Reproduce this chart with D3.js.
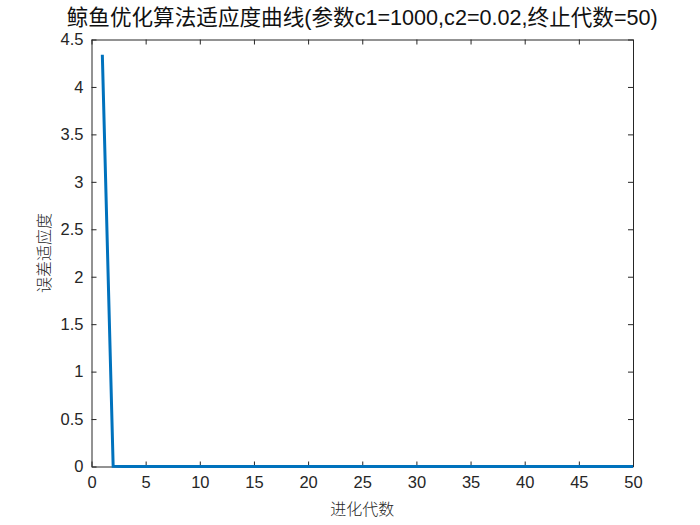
<!DOCTYPE html>
<html><head><meta charset="utf-8">
<script src="https://cdn.jsdelivr.net/npm/d3@7"></script>
<style>body{margin:0;background:#fff}svg{display:block}</style>
</head><body>
<script>
const generations = d3.range(1, 51);
const fitness = [4.34, 0.002, 0.001, 0.001, 0.001, 0.001, 0.001, 0.001, 0.001, 0.001,
  0.001, 0.001, 0.001, 0.001, 0.001, 0.001, 0.001, 0.001, 0.001, 0.001,
  0.001, 0.001, 0.001, 0.001, 0.001, 0.001, 0.001, 0.001, 0.001, 0.001,
  0.001, 0.001, 0.001, 0.001, 0.001, 0.001, 0.001, 0.001, 0.001, 0.001,
  0.001, 0.001, 0.001, 0.001, 0.001, 0.001, 0.001, 0.001, 0.001, 0.001];
const xTicks = [0,5,10,15,20,25,30,35,40,45,50];
const yTicks = [0,0.5,1,1.5,2,2.5,3,3.5,4,4.5];
const titleText = "鲸鱼优化算法适应度曲线(参数c1=1000,c2=0.02,终止代数=50)";
const xLabel = "进化代数";
const yLabel = "误差适应度";

const W = 700, H = 525;
const L = 91.5, R = 633, T = 39.5, B = 466.5;
const svg = d3.select("body").append("svg").attr("width", W).attr("height", H);
const x = d3.scaleLinear().domain([0,50]).range([L,R]);
const y = d3.scaleLinear().domain([0,4.5]).range([B,T]);
const latin = "'Liberation Sans', Arial, 'Noto Sans CJK SC', sans-serif";

const gx = svg.append("g").attr("transform", `translate(0,${B})`)
  .call(d3.axisBottom(x).tickValues(xTicks).tickSizeInner(-5).tickSizeOuter(0).tickPadding(10));
const gy = svg.append("g").attr("transform", `translate(${L},0)`)
  .call(d3.axisLeft(y).tickValues(yTicks).tickFormat(d3.format("~g")).tickSizeInner(-5).tickSizeOuter(0).tickPadding(8));
const gx2 = svg.append("g").attr("transform", `translate(0,${T})`)
  .call(d3.axisTop(x).tickValues(xTicks).tickSizeInner(-5).tickSizeOuter(0).tickFormat(""));
const gy2 = svg.append("g").attr("transform", `translate(${R},0)`)
  .call(d3.axisRight(y).tickValues(yTicks).tickSizeInner(-5).tickSizeOuter(0).tickFormat(""));
[gx,gy,gx2,gy2].forEach(g => {
  g.selectAll("path.domain").attr("stroke", "#262626").attr("stroke-width", 1);
  g.selectAll("line").attr("stroke", "#262626");
  g.selectAll("text").attr("font-family", latin).attr("font-size", 16.5).attr("fill", "#262626");
});

svg.append("path").datum(generations.map((g,i)=>[g, fitness[i]]))
  .attr("fill","none").attr("stroke","#0072BD").attr("stroke-width",3)
  .attr("stroke-linejoin","miter")
  .attr("d", d3.line().x(d=>x(d[0])).y(d=>y(d[1])));

svg.append("text").attr("x", (L+R)/2).attr("y", 25).attr("text-anchor","middle")
  .attr("font-family", latin).attr("font-weight", 400)
  .attr("font-size", 21.6).attr("fill","#111").text(titleText);
svg.append("text").attr("x", (L+R)/2).attr("y", 515).attr("text-anchor","middle")
  .attr("font-family", "'Noto Sans CJK SC', sans-serif").attr("font-weight", 300)
  .attr("font-size", 16).attr("fill","#262626").text(xLabel);
svg.append("text").attr("transform", `translate(50,${(T+B)/2}) rotate(-90)`).attr("text-anchor","middle")
  .attr("font-family", "'Noto Sans CJK SC', sans-serif").attr("font-weight", 300)
  .attr("font-size", 16).attr("fill","#262626").text(yLabel);
</script>
</body></html>
